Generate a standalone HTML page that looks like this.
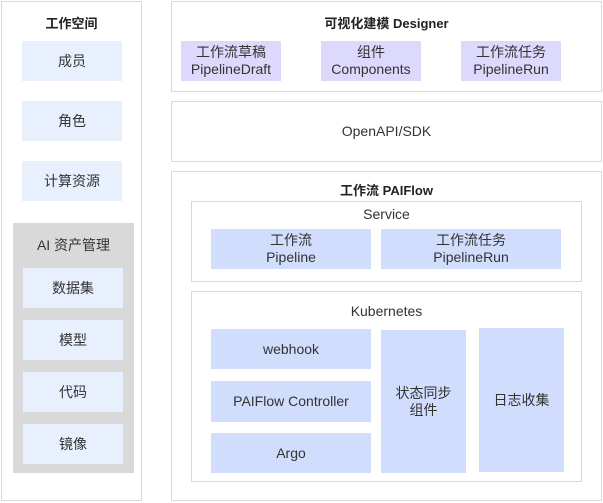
<!DOCTYPE html>
<html><head><meta charset="utf-8"><style>
body{margin:0;width:603px;height:503px;background:#fff;font-family:"Liberation Sans","Noto Sans CJK SC",sans-serif;color:#333;position:relative;overflow:hidden}
div{position:absolute;box-sizing:border-box}
.p{border:1px solid #d9d9d9;background:#fff}
.b{display:flex;align-items:center;justify-content:center;text-align:center;font-size:14px;line-height:17px}
.l{background:#e8effd}
.v{background:#ddd9fc}
.k{background:#d0ddfc}
.t{font-size:13px;font-weight:bold;text-align:center;width:100%;color:#222}
.s{font-size:14px;text-align:center;width:100%}
</style></head><body>
<div class="p" style="left:1px;top:1px;width:141px;height:500px"></div>
<div class="t" style="left:1px;top:13px;width:141px">工作空间</div>
<div class="b l" style="left:22px;top:41px;width:100px;height:40px">成员</div>
<div class="b l" style="left:22px;top:101px;width:100px;height:40px">角色</div>
<div class="b l" style="left:22px;top:161px;width:100px;height:40px">计算资源</div>
<div style="left:13px;top:223px;width:121px;height:250px;background:#d9d9d9"></div>
<div class="s" style="left:13px;top:235px;width:121px">AI 资产管理</div>
<div class="b l" style="left:23px;top:268px;width:100px;height:40px">数据集</div>
<div class="b l" style="left:23px;top:320px;width:100px;height:40px">模型</div>
<div class="b l" style="left:23px;top:372px;width:100px;height:40px">代码</div>
<div class="b l" style="left:23px;top:424px;width:100px;height:40px">镜像</div>

<div class="p" style="left:171px;top:1px;width:431px;height:91px"></div>
<div class="t" style="left:171px;top:13px;width:431px">可视化建模 Designer</div>
<div class="b v" style="left:181px;top:41px;width:100px;height:40px">工作流草稿<br>PipelineDraft</div>
<div class="b v" style="left:321px;top:41px;width:100px;height:40px">组件<br>Components</div>
<div class="b v" style="left:461px;top:41px;width:100px;height:40px">工作流任务<br>PipelineRun</div>

<div class="p b" style="left:171px;top:101px;width:431px;height:61px">OpenAPI/SDK</div>

<div class="p" style="left:171px;top:171px;width:431px;height:330px"></div>
<div class="t" style="left:171px;top:180px;width:431px">工作流 PAIFlow</div>
<div class="p" style="left:191px;top:201px;width:391px;height:81px"></div>
<div class="s" style="left:191px;top:206px;width:391px">Service</div>
<div class="b k" style="left:211px;top:229px;width:160px;height:40px">工作流<br>Pipeline</div>
<div class="b k" style="left:381px;top:229px;width:180px;height:40px">工作流任务<br>PipelineRun</div>
<div class="p" style="left:191px;top:291px;width:391px;height:191px"></div>
<div class="s" style="left:191px;top:303px;width:391px">Kubernetes</div>
<div class="b k" style="left:211px;top:329px;width:160px;height:40px">webhook</div>
<div class="b k" style="left:211px;top:381px;width:160px;height:41px">PAIFlow Controller</div>
<div class="b k" style="left:211px;top:433px;width:160px;height:40px">Argo</div>
<div class="b k" style="left:381px;top:330px;width:85px;height:143px">状态同步<br>组件</div>
<div class="b k" style="left:479px;top:328px;width:85px;height:144px">日志收集</div>
</body></html>
